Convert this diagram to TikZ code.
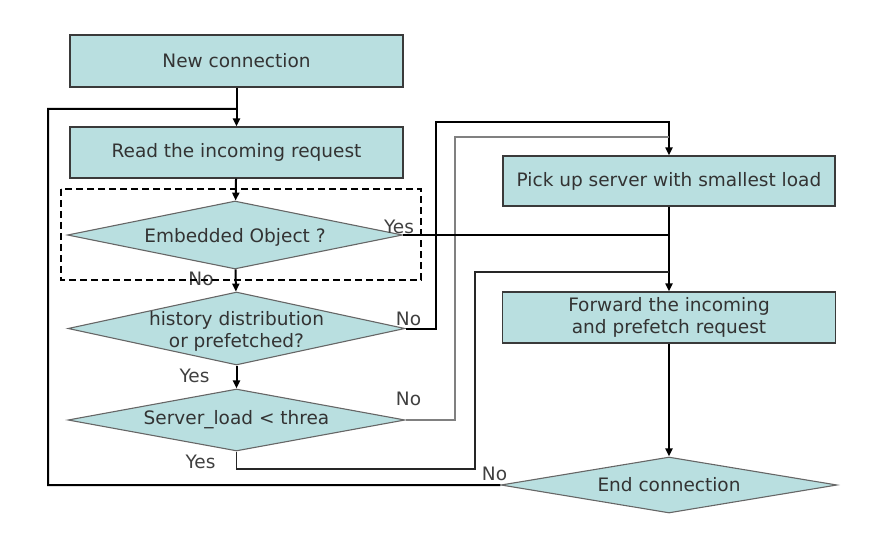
\documentclass[tikz,border=0pt]{standalone}
\usepackage{fontspec}
\setmainfont{DejaVu Sans}
\usetikzlibrary{shapes.geometric, arrows.meta, calc}
\definecolor{boxfill}{HTML}{B9DFE0}
\definecolor{boxline}{HTML}{3A3A3A}
\tikzset{
    procbox/.style={draw=boxline, fill=boxfill, line width=1.3pt, minimum width=333pt, minimum height=51pt, inner sep=0pt, text=black!80},
    decision/.style={diamond, draw=black!60, fill=boxfill, line width=1.1pt, inner sep=0pt},
    flow/.style={-{Triangle[length=8pt,width=7pt]}, line width=2pt},
    backline/.style={line width=2pt},
    sideline/.style={line width=1.4pt, black!85},
    greyline/.style={line width=1.1pt, black!50},
    answer/.style={text=black!75, inner sep=0pt}
}

\begin{document}
\begin{tikzpicture}[x=1pt, y=-1pt, font=\fontsize{18.5}{22}\selectfont]
            \useasboundingbox (0,0) rectangle (892,548);
            % left column
            \node[procbox, minimum height=52pt] (new) at (236.5,61) {New connection};
            \node[procbox] (read) at (236.5,152.5) {Read the incoming request};
            \node[decision, minimum width=335pt, minimum height=68pt] (emb) at (235,235) {};
            \node[text=black!80, yshift=-2pt] (embtext) at (emb) {Embedded Object ?};
            \node[decision, minimum width=337pt, minimum height=73pt] (hist) at (236.5,328.5) {};
            \node[text=black!80, align=center, yshift=-3pt] (histtext) at (hist) {history distribution\\or prefetched?};
            \node[decision, minimum width=337pt, minimum height=62pt] (srv) at (236.5,420) {};
            \node[text=black!80] (srvtext) at (srv) {Server\_load < threa};
            % right column
            \node[procbox, minimum width=332pt, minimum height=50pt] (pick) at (669,181) {Pick up server with smallest load};
            \node[procbox, align=center] (fwd) at (669,317.5) {Forward the incoming\\and prefetch request};
            \node[decision, minimum width=336pt, minimum height=56pt] (end) at (669,485) {};
            \node[text=black!80] (endtext) at (end) {End connection};

            \coordinate (loopjoin) at ($(new.south)!0.55!(read.north)$);
            \draw[flow] (new) -- (read);
            \draw[flow] (read) -- (emb);
            \draw[flow] (emb) -- (hist);
            \draw[flow] (hist) -- (srv);
            \draw[flow] (pick) -- (fwd);
            \draw[flow] (fwd) -- (end);

            \draw[flow] (hist.east) -| (436,122) -| (pick.north);
            \draw[greyline] (srv.east) -| (455,137) -- (pick.north |- 0,137);
            \draw[backline] (emb.east) -- (emb.east -| pick.south);
            \draw[sideline] (srv.south) |- (475,469) -- (475,272) -- (pick.south |- 0,272);
            \draw[backline] (end.west) -| (48,109) -- (loopjoin);

            \node[answer] (embyes) at (399,227) {Yes};
            \node[answer] (embno) at (201,279) {No};
            \node[answer] (histno) at (408.5,319) {No};
            \node[answer] (histyes) at (194.5,375.5) {Yes};
            \node[answer] (srvno) at (408.5,398.5) {No};
            \node[answer] (srvyes) at (200.5,462) {Yes};
            \node[answer] (endno) at (494.5,473.5) {No};

            \draw[dash pattern=on 7pt off 4pt, line width=1.3pt] (61,189) rectangle (421,280);
        \end{tikzpicture}
\end{document}
